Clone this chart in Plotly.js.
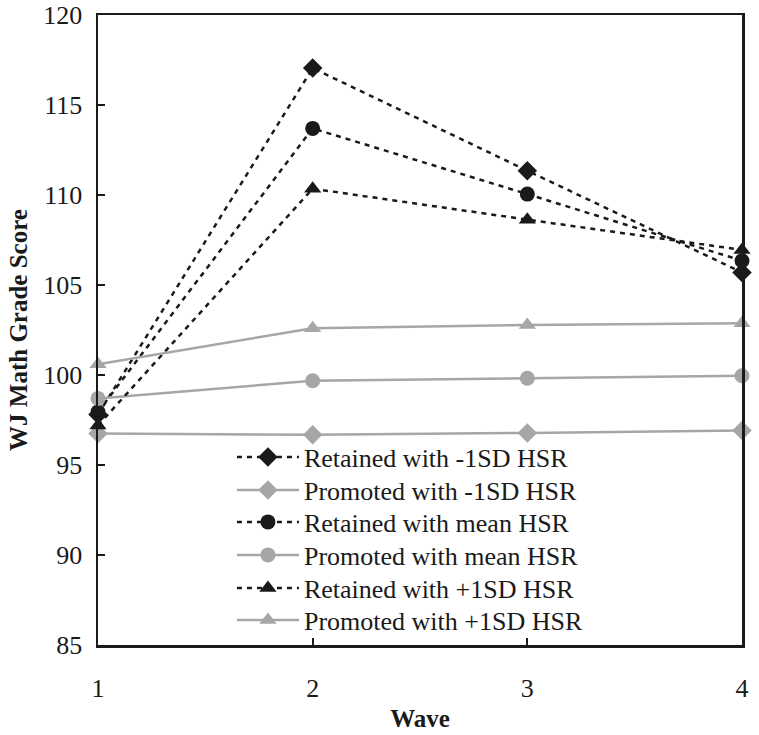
<!DOCTYPE html>
<html>
<head>
<meta charset="utf-8">
<script src="https://cdn.plot.ly/plotly-3.0.1.min.js"></script>
<style>
  html, body { margin: 0; padding: 0; background: #ffffff; }
  #chart { width: 759px; height: 735px; }
</style>
</head>
<body>
<div id="chart"></div>
<script>
const waves = [1, 2, 3, 4];
const seriesNames = [
  "Retained with -1SD HSR",
  "Promoted with -1SD HSR",
  "Retained with mean HSR",
  "Promoted with mean HSR",
  "Retained with +1SD HSR",
  "Promoted with +1SD HSR"
];
const retainedMinus1SD = [97.8, 117.05, 111.35, 105.7];
const promotedMinus1SD = [96.75, 96.68, 96.78, 96.92];
const retainedMean = [97.95, 113.7, 110.05, 106.35];
const promotedMean = [98.7, 99.68, 99.82, 99.96];
const retainedPlus1SD = [97.2, 110.35, 108.63, 106.95];
const promotedPlus1SD = [100.6, 102.6, 102.78, 102.88];
const yTickVals = [85, 90, 95, 100, 105, 110, 115, 120];
const xTickVals = [1, 2, 3, 4];

const BLACK = "#1a1a1a";
const GRAY = "#a6a6a6";
const SERIF = "Liberation Serif";
const legendIds = ["legend", "legend2", "legend3", "legend4", "legend5", "legend6"];

function retained(i, y, symbol, size) {
  return {
    x: waves, y: y, name: seriesNames[i], type: "scatter", mode: "lines+markers",
    line: { color: BLACK, width: 2.5, dash: "5px,5px" },
    marker: { color: BLACK, symbol: symbol, size: size },
    cliponaxis: false, legend: legendIds[i]
  };
}
function promoted(i, y, symbol, size) {
  return {
    x: waves, y: y, name: seriesNames[i], type: "scatter", mode: "lines+markers",
    line: { color: GRAY, width: 2.5 },
    marker: { color: GRAY, symbol: symbol, size: size },
    cliponaxis: false, legend: legendIds[i]
  };
}

const data = [
  retained(0, retainedMinus1SD, "diamond", 15),
  promoted(1, promotedMinus1SD, "diamond", 15),
  retained(2, retainedMean, "circle", 15),
  promoted(3, promotedMean, "circle", 15),
  retained(4, retainedPlus1SD, "triangle-up", 15),
  promoted(5, promotedPlus1SD, "triangle-up", 15)
];

const plotTop = 15, plotBottom = 645;

const layout = {
  width: 759, height: 735,
  margin: { l: 98, r: 17, t: plotTop, b: 735 - plotBottom },
  paper_bgcolor: "#ffffff",
  plot_bgcolor: "#ffffff",
  font: { family: SERIF, size: 24, color: "#1a1a1a" },
  showlegend: true,
  xaxis: {
    range: [1, 4],
    tickvals: xTickVals,
    ticktext: xTickVals.map(String),
    ticks: "inside", ticklen: 7, tickwidth: 2, tickcolor: "#1a1a1a",
    showline: true, linecolor: "#1a1a1a", linewidth: 2.5, mirror: true,
    showgrid: false, zeroline: false,
    ticklabelstandoff: 18,
    ticklabeloverflow: "allow",
    tickfont: { family: SERIF, size: 26, color: "#1a1a1a" },
    title: { text: "<b>Wave</b>", font: { family: SERIF, size: 25, color: "#1a1a1a" }, standoff: 8 }
  },
  yaxis: {
    range: [85, 120],
    tickvals: yTickVals,
    ticktext: yTickVals.map(String),
    ticks: "inside", ticklen: 7, tickwidth: 2, tickcolor: "#1a1a1a",
    showline: true, linecolor: "#1a1a1a", linewidth: 2.5, mirror: true,
    showgrid: false, zeroline: false,
    ticklabelstandoff: 8,
    ticklabeloverflow: "allow",
    tickfont: { family: SERIF, size: 26, color: "#1a1a1a" },
    title: { text: "<b>WJ Math Grade Score</b>", font: { family: SERIF, size: 25, color: "#1a1a1a" }, standoff: 9 }
  }
};

// one legend box per row, so the row spacing matches the reference
const rowCenters = [457, 490, 522, 555, 588, 620];
legendIds.forEach((id, i) => {
  layout[id] = {
    x: 0.208, y: (plotBottom - rowCenters[i]) / (plotBottom - plotTop),
    xanchor: "left", yanchor: "middle",
    bgcolor: "rgba(255,255,255,0)",
    font: { family: SERIF, size: 26, color: "#1a1a1a" },
    itemwidth: 62
  };
});

Plotly.newPlot("chart", data, layout, { displayModeBar: false, staticPlot: true });
</script>
</body>
</html>
